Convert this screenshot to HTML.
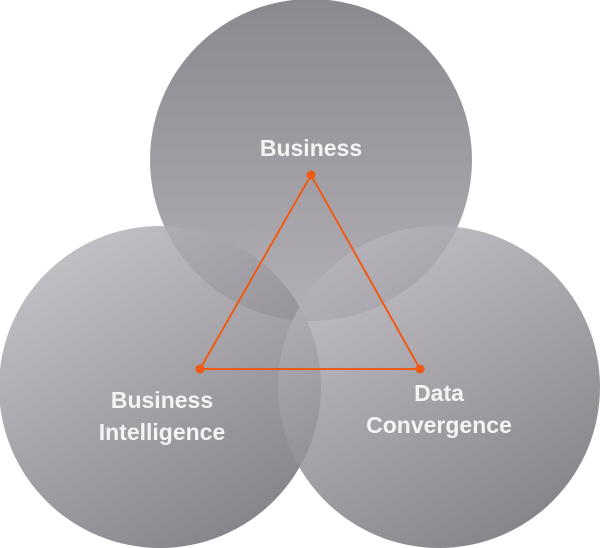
<!DOCTYPE html>
<html><head><style>html,body{margin:0;padding:0;background:#fff;width:600px;height:548px;overflow:hidden}</style></head>
<body>
<svg width="600" height="548" viewBox="0 0 600 548" xmlns="http://www.w3.org/2000/svg">
<defs>
<linearGradient id="gt" x1="0" y1="0" x2="0" y2="1"><stop offset="0" stop-color="#7e7c82"/><stop offset="1" stop-color="#aaa8ae"/></linearGradient>
<linearGradient id="gl" x1="0.2" y1="0" x2="0.8" y2="1"><stop offset="0" stop-color="#bbb9bf"/><stop offset="1" stop-color="#6d6b71"/></linearGradient>
<linearGradient id="gr" x1="0.2" y1="0" x2="0.8" y2="1"><stop offset="0" stop-color="#bbb9bf"/><stop offset="1" stop-color="#6d6b71"/></linearGradient>
</defs>
<circle cx="311" cy="160" r="161" fill="url(#gt)" fill-opacity="0.9"/>
<circle cx="160" cy="387" r="161" fill="url(#gl)" fill-opacity="0.85"/>
<circle cx="439" cy="387" r="161" fill="url(#gr)" fill-opacity="0.85"/>
<polygon points="311,175 200,369 420,369" fill="none" stroke="#f05a14" stroke-width="2"/>
<circle cx="311" cy="175" r="4.5" fill="#f05a14"/>
<circle cx="200" cy="369" r="4.5" fill="#f05a14"/>
<circle cx="420" cy="369" r="4.5" fill="#f05a14"/>
<g font-family="Liberation Sans, sans-serif" font-weight="bold" font-size="23" fill="#f4f4f6" text-anchor="middle">
<text x="311" y="156">Business</text>
<text x="162" y="408">Business</text>
<text x="162" y="440">Intelligence</text>
<text x="439" y="401">Data</text>
<text x="439" y="433">Convergence</text>
</g>
</svg>
</body></html>
